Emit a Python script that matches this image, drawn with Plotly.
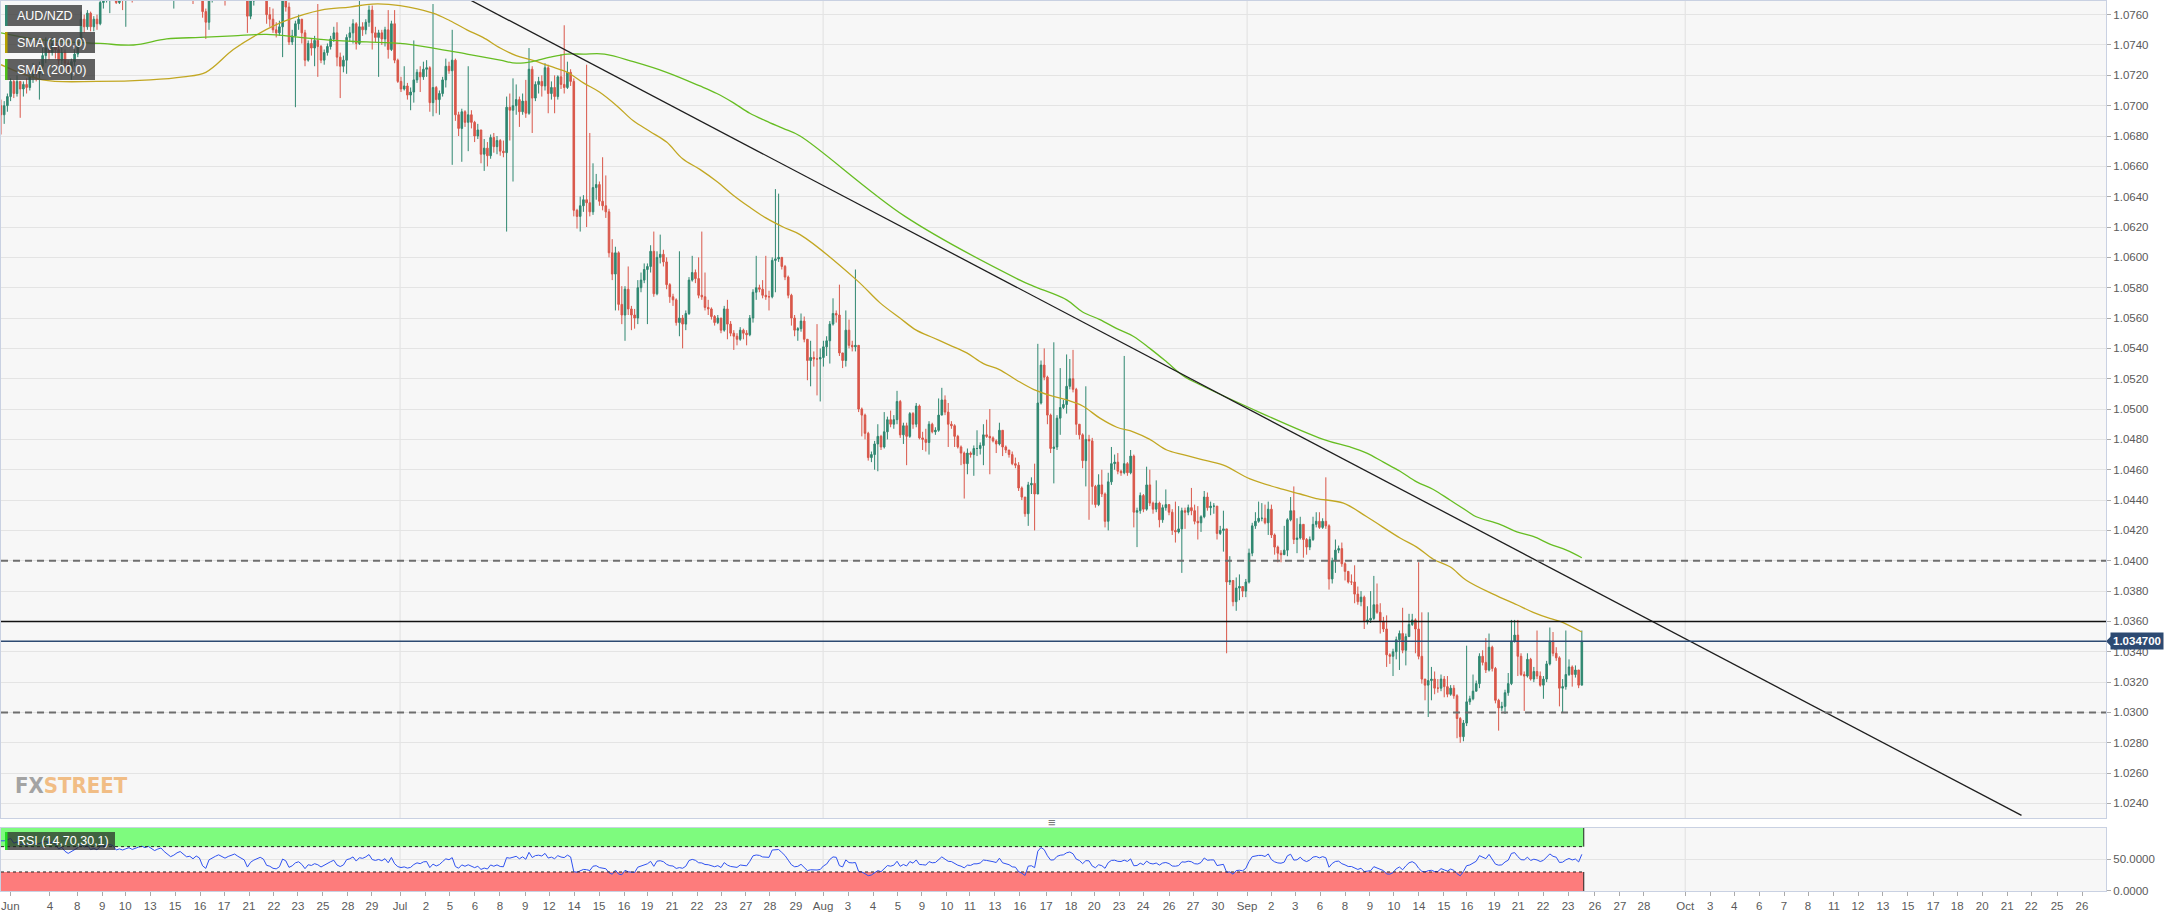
import plotly.graph_objects as go

# ---------------- data (prices as pips above 1.0000: price = 1 + pips/10000) -------------
OPEN0_PIPS = 700
CLOSE_PIPS = [
694,700,706,716,708,716,711,714,712,719, 724,721,726,733,738,735,741,737,730,735,
728,724,729,734,742,757,752,761,752,757, 754,768,772,775,778,776,768,772,770,774,
778,775,780,783,786,784,788,785,782,786, 789,784,780,776,779,784,787,783,779,780,
776,781,778,762,755,772,777,781,785,782, 778,782,786,788,784,780,777,759,769,774,
778,781,777,760,757,750,748,752,770,765, 742,746,754,757,748,730,741,738,743,739,
730,735,739,744,748,732,726,730,745,748, 754,741,752,750,755,763,748,745,748,744,
750,737,754,730,716,711,713,707,709,717, 722,719,724,725,702,712,704,708,717,726,
723,730,694,685,696,689,694,689,680,684, 668,672,667,679,673,677,670,669,699,697,
700,704,696,703,695,724,705,714,716,713, 725,708,712,706,719,714,712,722,716,631,
627,634,638,636,630,646,648,637,634,630, 603,589,603,569,562,579,566,562,560,580,
585,592,594,604,576,600,602,597,582,574, 572,557,560,556,563,585,590,586,575,574,
567,566,561,557,560,552,566,556,550,548, 546,552,550,549,560,577,580,579,575,574,
574,598,599,600,594,587,575,560,552,553, 558,546,532,534,533,533,534,541,545,556,
563,562,537,532,552,542,541,542,500,496, 484,468,470,477,482,475,485,493,490,493,
505,483,489,482,497,490,502,481,480,478, 490,485,486,496,506,498,490,489,482,475,
471,464,471,470,474,474,476,483,482,481, 479,477,486,475,473,470,464,463,448,442,
431,450,451,444,504,529,521,496,474,475, 494,501,503,515,520,513,490,483,466,480,
479,449,437,450,444,426,452,464,465,459, 458,464,458,469,432,433,443,434,450,438,
434,438,427,435,437,432,420,419,421,433, 432,435,433,426,425,429,442,435,436,436,
418,420,421,386,387,373,382,383,380,386, 405,423,426,428,428,425,434,417,409,405,
404,407,427,433,414,415,424,414,409,414, 424,426,422,426,423,388,400,407,408,398,
393,386,386,378,373,376,360,361,362,371, 366,360,355,338,337,340,348,352,341,350,
358,361,355,337,322,318,321,322,316,316, 322,317,312,316,311,296,284,293,307,309,
314,319,337,333,328,343,329,308,303,304, 313,319,347,351,337,325,324,335,322,327,
324,318,322,332,347,339,336,316,317,325, 330,325,328,318,347]
HIGH_PIPS = [
704,703,708,718,717,720,716,716,718,722, 728,727,729,738,745,742,745,743,740,738,
737,730,731,737,745,762,760,763,762,759, 760,772,776,779,781,782,779,777,776,778,
782,781,784,787,790,789,792,791,788,789, 793,791,786,782,783,788,791,789,785,784,
781,785,784,778,764,776,781,785,789,788, 783,786,790,792,790,786,783,778,772,778,
782,785,783,780,765,764,755,756,773,772, 768,750,756,760,756,750,743,744,746,767,
740,737,741,746,752,755,735,733,747,752, 757,755,771,755,757,766,766,752,750,750,
752,763,756,763,731,719,726,715,712,743, 724,726,729,730,726,767,713,710,719,731,
729,750,731,696,698,697,726,697,690,688, 684,678,676,681,682,680,678,677,706,708,
718,714,706,708,717,738,726,716,719,720, 728,727,716,720,720,734,753,729,724,718,
632,640,641,727,682,662,655,650,666,654, 632,612,607,604,581,581,594,568,566,585,
590,596,596,608,617,604,615,605,600,583, 576,573,604,562,565,587,601,592,600,617,
590,572,567,562,562,560,568,572,558,552, 550,554,553,552,562,579,601,582,585,601,
578,600,645,642,600,595,588,576,562,554, 563,561,546,545,538,556,540,545,548,558,
573,565,582,537,565,559,545,592,542,501, 497,485,472,479,490,483,498,495,499,496,
512,506,491,491,498,498,504,503,485,487, 492,491,488,507,514,509,504,492,490,483,
476,472,474,472,476,486,478,490,493,500, 482,480,491,485,476,473,472,468,465,449,
442,452,455,464,543,532,540,522,497,544, 496,527,506,536,533,539,514,490,484,515,
483,481,450,457,460,445,458,475,470,471, 460,535,465,473,470,435,445,444,462,460,
439,453,439,437,447,437,434,439,436,435, 435,437,448,437,436,430,446,445,439,438,
434,423,433,421,403,387,389,391,383,388, 408,425,432,439,438,437,439,437,418,410,
407,423,428,442,449,428,429,424,415,416, 429,432,432,428,455,424,402,414,410,412,
399,393,391,397,383,380,377,370,380,390, 385,372,363,364,339,342,350,354,369,352,
365,365,362,399,366,322,366,330,327,322, 325,324,324,318,318,312,297,295,344,311,
325,321,339,341,349,352,344,330,309,307, 315,326,361,361,361,339,327,339,336,330,
354,327,324,334,356,353,343,337,322,354, 335,331,331,328,354]
LOW_PIPS = [
681,688,696,703,705,706,692,706,708,710, 715,716,704,720,728,730,733,731,727,726,
724,721,717,726,732,741,748,750,749,749, 750,753,764,768,761,769,767,767,763,752,
771,768,774,778,781,780,782,781,778,780, 784,780,776,772,764,777,782,779,774,775,
767,776,773,758,744,750,768,776,780,778, 766,776,781,783,780,775,772,748,757,766,
773,776,773,754,752,748,745,746,732,762, 740,740,699,750,741,726,729,733,726,719,
728,727,733,737,742,726,705,722,721,742, 741,737,740,746,747,752,737,742,719,740,
739,731,736,728,715,709,710,704,697,702, 715,709,717,719,696,693,695,694,706,712,
721,661,690,680,663,686,670,685,676,678, 662,657,660,665,669,668,667,666,617,677,
650,694,686,694,692,694,682,703,708,706, 710,695,704,695,704,711,708,711,713,627,
619,617,630,620,627,628,638,634,631,626, 600,585,565,565,556,545,562,552,553,556,
577,583,556,590,574,575,596,594,579,570, 568,555,548,540,552,562,584,583,573,572,
565,562,559,555,556,550,551,546,548,539, 542,545,546,542,548,557,572,577,573,572,
565,573,577,597,592,585,573,555,548,545, 551,544,519,515,528,509,505,528,535,530,
555,557,535,527,528,540,538,538,498,482, 480,466,465,460,459,473,474,480,488,487,
490,481,477,463,481,487,488,480,473,472, 470,484,483,485,496,496,475,487,475,474,
463,441,457,468,456,469,470,463,481,457, 478,471,476,469,471,468,463,461,446,440,
429,423,444,420,444,503,519,490,471,451, 473,483,500,497,513,511,483,480,461,449,
427,437,435,436,442,422,420,450,460,457, 456,457,456,457,422,409,431,432,433,436,
431,432,422,425,433,430,417,412,418,392, 421,430,430,424,414,419,428,433,430,431,
414,417,406,339,384,370,367,374,376,376, 385,403,421,425,426,424,417,415,404,399,
399,404,403,426,411,405,414,402,404,407, 413,422,421,421,421,381,385,392,405,396,
387,385,384,372,371,370,355,358,359,361, 365,352,353,330,332,324,335,328,339,331,
350,357,339,335,319,308,297,308,312,313, 314,310,310,311,309,283,280,281,291,305,
308,314,316,331,326,327,327,306,288,301, 299,311,318,346,324,324,301,323,321,320,
322,317,309,320,331,337,334,304,300,315, 324,317,323,316,318]

# moving averages: (candle index, pips)
SMA100_X = [0,13,30,46.6,57,64,72.6,81,89,100,109,116,124.7,135,140.3,145.6,150.6,156,161,166,
            171.6,177,182,187,192.4,197.6,202.8,208,213,218.4,223.7,228.8,234,239,244.4,249.7,
            267.4,274.7,280.9,286,291.3,296.6,301.8,307,312,317.4,322.6,327.8,333,338,343.4,348.7,
            353.8,359,364.3,369.4,374.7,382,390.3,400.7,406,411,419.5,426.8,437.2,442.4,447.6,
            452.8,458,466.3,473.7,478.8,484,487.2,494]
SMA100_PIPS = [727,717,716,717,719,722,737,748,756,763,765,767,766,761,756,750,745,738,733,730,
               726,722,715,709,700,690,683,676,665,658,650,641,633,626,620,615,
               585,570,560,552,547,542,537,530,526,519,513,509,506,502,494,488,
               485,480,473,470,467,463,454,447,444,441,438,429,415,409,401,
               396,387,378,371,366,362,360,353]
SMA200_X = [0,10.1,20.5,31,41.4,51.8,62.2,72.6,83,93.4,103.8,114.3,124.7,135,145.6,156,161,166,
            171.6,177,182,188.6,197.6,208,218.4,223.7,228.8,234,239,244.4,249.7,282.5,318.4,322.6,
            333,338,343.4,348.7,353.8,359,364.3,369.4,374.7,413.2,421.6,426.8,432,437.2,442.4,
            447.6,452.8,458,461,468.4,473.7,478.8,484,489.2,494]
SMA200_PIPS = [748,744,742,741,740,744,745,746,747,745,743,742,741,738,734,730,728,729,
               732,734,734,734,729,722,713,708,702,695,690,685,680,627,585,581,
               572,564,559,553,548,540,531,522,516,480,475,471,465,459,452,
               447,440,433,429,424,419,416,411,407,402]

TREND_X = [146.6, 631.4]
TREND_Y = [1.07697, 1.02321]
LEVELS_DASHED = [1.0400, 1.0300]
LEVEL_SOLID = 1.0360
LAST_PRICE = 1.0347

TICK_POS = [2.9,15.3,23.8,31.6,38.8,46.6,54.4,62.2,69.7,77.5,85.3,92.8,100.6,108.4,115.9,
            124.7,132.8,140.3,148.1,155.9,163.8,171.3,179.1,186.9,194.7,201.9,209.7,217.5,225.0,232.8,240.3,248.4,
            256.9,264.7,272.5,280.3,287.8,295.6,302.8,310.6,318.4,326.6,334.4,341.6,349.4,356.9,365.0,372.5,380.3,
            389.4,396.9,404.4,412.2,420.0,427.8,435.3,443.1,450.9,458.1,466.6,474.1,481.9,489.7,498.1,505.9,513.4,
            526.3,534.1,541.6,549.4,557.2,564.7,572.8,580.3,588.1,595.9,603.8,611.3,619.1,626.9,634.4,642.5,650.3]
TICK_TEXT = ['Jun','4','8','9','10','13','15','16','17','21','22','23','25','28','29',
             'Jul','2','5','6','8','9','12','14','15','16','19','21','22','23','27','28','29',
             'Aug','3','4','5','9','10','11','13','16','17','18','20','23','24','26','27','30',
             'Sep','2','3','6','8','9','10','14','15','16','19','21','22','23','26','27','28',
             'Oct','3','4','6','7','8','11','12','13','15','17','18','20','21','22','25','26']
PRICE_TICKS = [1.024 + 0.002 * k for k in range(27)]

# ---------------- derived series ----------------
def px(p):
    return 1 + p / 10000.0

N = len(CLOSE_PIPS)
idx = list(range(N))
close = [px(p) for p in CLOSE_PIPS]
opens = [px(OPEN0_PIPS)] + close[:-1]
high = [max(px(h), o, c) for h, o, c in zip(HIGH_PIPS, opens, close)]
low = [min(px(l), o, c) for l, o, c in zip(LOW_PIPS, opens, close)]

def rsi_wilder(c, n=14):
    ch = [c[i] - c[i - 1] for i in range(1, len(c))]
    g = [max(d, 0) for d in ch]
    l = [max(-d, 0) for d in ch]
    ag = sum(g[:n]) / n
    al = sum(l[:n]) / n
    out = []
    for gi, li in zip(g, l):
        ag = (ag * (n - 1) + gi) / n
        al = (al * (n - 1) + li) / n
        out.append(100.0 if al == 0 else 100 - 100 / (1 + ag / al))
    return [out[0]] + out

rsi = rsi_wilder(close)

# ---------------- styling constants ----------------
UP = '#2f8770'
DN = '#d9574a'
BORDER = '#c9d1e2'
GRID = '#e4e4e4'
FONT = 'Liberation Sans, Arial, sans-serif'
XMAX = 657.8
BAND_END = N - 0.4
RSI_TOP = 99.4

fig = go.Figure()
fig.add_trace(go.Candlestick(
    x=idx, open=opens, high=high, low=low, close=close,
    increasing=dict(line=dict(color=UP, width=1), fillcolor=UP),
    decreasing=dict(line=dict(color=DN, width=1), fillcolor=DN),
    whiskerwidth=0, showlegend=False, hoverinfo='skip', xaxis='x', yaxis='y'))
fig.add_trace(go.Scatter(x=SMA100_X, y=[px(p) for p in SMA100_PIPS], mode='lines',
                         line=dict(color='#c2a722', width=1.3, shape='spline'),
                         showlegend=False, hoverinfo='skip', xaxis='x', yaxis='y'))
fig.add_trace(go.Scatter(x=SMA200_X, y=[px(p) for p in SMA200_PIPS], mode='lines',
                         line=dict(color='#66bd22', width=1.3, shape='spline'),
                         showlegend=False, hoverinfo='skip', xaxis='x', yaxis='y'))
fig.add_trace(go.Scatter(x=TREND_X, y=TREND_Y, mode='lines',
                         line=dict(color='#1e1e1e', width=1.3),
                         showlegend=False, hoverinfo='skip', xaxis='x', yaxis='y'))
fig.add_trace(go.Scatter(x=idx, y=rsi, mode='lines', line=dict(color='#2f52f0', width=1),
                         showlegend=False, hoverinfo='skip', xaxis='x2', yaxis='y2'))

shapes = []
# month separators
for pos, txt in zip(TICK_POS, TICK_TEXT):
    if txt in ('Jul', 'Aug', 'Sep', 'Oct'):
        for xr, yr in (('x', 'y domain'), ('x2', 'y2 domain')):
            shapes.append(dict(type='line', xref=xr, yref=yr, x0=pos, x1=pos, y0=0, y1=1,
                               line=dict(color='#e0e0e0', width=1), layer='below'))
# RSI bands
shapes.append(dict(type='rect', xref='x2', yref='y2', x0=0, x1=BAND_END, y0=70, y1=RSI_TOP,
                   fillcolor='#7efb7e', line=dict(width=0), layer='below'))
shapes.append(dict(type='rect', xref='x2', yref='y2', x0=0, x1=BAND_END, y0=0, y1=30,
                   fillcolor='#fd7c7c', line=dict(width=0), layer='below'))
for lv in (70, 30):
    shapes.append(dict(type='line', xref='x2', yref='y2', x0=0, x1=BAND_END, y0=lv, y1=lv,
                       line=dict(color='#222', width=1, dash='dot'), layer='above'))
for a, b in ((70, RSI_TOP), (0, 30)):
    shapes.append(dict(type='line', xref='x2', yref='y2', x0=BAND_END, x1=BAND_END, y0=a, y1=b,
                       line=dict(color='#222', width=1), layer='above'))
# price levels
for lv in LEVELS_DASHED:
    shapes.append(dict(type='line', xref='x', yref='y', x0=0, x1=XMAX, y0=lv, y1=lv,
                       line=dict(color='#6e6e6e', width=2, dash='7px,5px'), layer='above'))
shapes.append(dict(type='line', xref='x', yref='y', x0=0, x1=XMAX, y0=LEVEL_SOLID, y1=LEVEL_SOLID,
                   line=dict(color='#111', width=1.5), layer='above'))
shapes.append(dict(type='line', xref='x', yref='y', x0=0, x1=XMAX, y0=LAST_PRICE, y1=LAST_PRICE,
                   line=dict(color='#2d4a72', width=1.5), layer='above'))
# price tag arrow
shapes.append(dict(type='path', xref='paper', yref='y', xsizemode='pixel', ysizemode='pixel',
                   xanchor=1, yanchor=LAST_PRICE, path='M 0,0 L 5,5 L 5,-5 Z',
                   fillcolor='#2d4a72', line=dict(width=0)))

def tl_box(x0, x1, y0, y1, col, strip, yanchor=1):
    shapes.append(dict(type='rect', xref='paper', yref='paper', xsizemode='pixel', ysizemode='pixel',
                       xanchor=0, yanchor=yanchor, x0=x0, x1=x1, y0=y0, y1=y1,
                       fillcolor=col, line=dict(width=0), layer='above'))
    shapes.append(dict(type='rect', xref='paper', yref='paper', xsizemode='pixel', ysizemode='pixel',
                       xanchor=0, yanchor=yanchor, x0=x0, x1=x0 + 2.5, y0=y0, y1=y1,
                       fillcolor=strip, line=dict(width=0), layer='above'))

tl_box(4, 81, -25, -4, 'rgba(62,62,62,0.82)', '#2f8770')
tl_box(4, 94, -52, -31, 'rgba(62,62,62,0.82)', '#b5a000')
tl_box(4, 94, -79, -58, 'rgba(62,62,62,0.82)', '#4fbf1a')
tl_box(4, 114, 41, 59, 'rgba(40,40,40,0.72)', '#22dd22', yanchor=0)

annotations = []
for text, ys, ya in (('AUD/NZD', -14.5, 1), ('SMA (100,0)', -41.5, 1), ('SMA (200,0)', -68.5, 1),
                     ('RSI (14,70,30,1)', 50, 0)):
    annotations.append(dict(xref='paper', yref='paper', x=0, y=ya, xshift=14, yshift=ys,
                            xanchor='left', yanchor='middle', showarrow=False, text=text,
                            font=dict(family=FONT, size=12.5, color='white')))
annotations.append(dict(xref='paper', yref='y', x=1, y=LAST_PRICE, xshift=4, xanchor='left',
                        yanchor='middle', showarrow=False, text='<b>1.034700</b>',
                        bgcolor='#2d4a72', borderpad=2,
                        font=dict(family=FONT, size=11.5, color='white')))
annotations.append(dict(xref='paper', yref='paper', x=0, y=0, xshift=12, yshift=106,
                        xanchor='left', yanchor='middle', showarrow=False,
                        text="<b><span style='color:#a3a3a3'>FX</span><span style='color:#f1bd85'>STREET</span></b>",
                        font=dict(family='DejaVu Sans Condensed, Liberation Sans Narrow, Arial Narrow, sans-serif',
                                  size=22)))
annotations.append(dict(xref='paper', yref='paper', x=(1052 - 1) / 2105, y=0, yshift=69,
                        xanchor='center', yanchor='middle', showarrow=False, text='≡',
                        font=dict(family=FONT, size=13, color='#777')))

axis_common = dict(showline=True, mirror=True, linecolor=BORDER, linewidth=1, zeroline=False,
                   fixedrange=True, automargin=False, ticklabeloverflow='allow',
                   tickfont=dict(family=FONT, size=11.5, color='#5a5a5a'))

fig.update_layout(
    width=2183, height=918,
    margin=dict(l=1, r=77, t=1, b=27, autoexpand=False),
    paper_bgcolor='white', plot_bgcolor='#f7f7f7',
    showlegend=False, hovermode=False,
    shapes=shapes, annotations=annotations,
    xaxis=dict(domain=[0, 1], anchor='y', range=[0, XMAX], showticklabels=False, showgrid=False,
               ticks='', rangeslider=dict(visible=False), **axis_common),
    yaxis=dict(domain=[0.082, 1], anchor='x', side='right', range=[1.02304, 1.07690],
               tickvals=PRICE_TICKS, ticktext=['%.4f' % v for v in PRICE_TICKS],
               showgrid=True, gridcolor=GRID, ticks='outside', ticklen=4, tickcolor='#aaaaaa',
               **axis_common),
    xaxis2=dict(domain=[0, 1], anchor='y2', range=[0, XMAX], tickvals=TICK_POS, ticktext=TICK_TEXT,
                showgrid=False, ticks='outside', ticklen=4, tickcolor='#aaaaaa', tickangle=0,
                **axis_common),
    yaxis2=dict(domain=[0, 0.0708], anchor='x2', side='right', range=[0, RSI_TOP],
                tickvals=[0, 50], ticktext=['0.0000', '50.0000'], showgrid=True, gridcolor=GRID,
                ticks='outside', ticklen=4, tickcolor='#aaaaaa', **axis_common),
)

fig.write_html('out.html', config={'displayModeBar': False, 'staticPlot': True},
               post_script="document.body.style.margin='0px';")
